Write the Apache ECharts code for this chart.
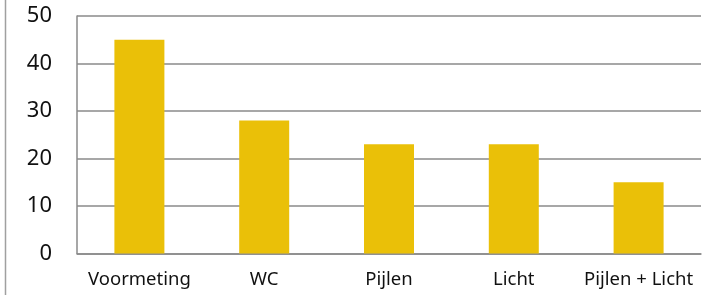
<!DOCTYPE html>
<html>
<head>
<meta charset="utf-8">
<script src="https://cdn.jsdelivr.net/npm/echarts@6/dist/echarts.min.js"></script>
<style>
  html, body { margin: 0; padding: 0; background: #fff; }
  #chart { width: 718px; height: 295px; }
</style>
</head>
<body>
<div id="chart"></div>
<script>
// categorieen en waarden
var categories = ['Voormeting', 'WC', 'Pijlen', 'Licht', 'Pijlen + Licht'];
var values = [45, 28, 23, 23, 15];
var yTicks = [0, 10, 20, 30, 40, 50];

var myChart = echarts.init(document.getElementById('chart'));
myChart.setOption({
    animation: false,
    textStyle: { fontFamily: 'Noto Sans' },
    grid: { left: 77, right: 17, top: 16, bottom: 41.5 },
    graphic: [{
        type: 'line',
        shape: { x1: 5.5, y1: 0, x2: 5.5, y2: 295 },
        style: { stroke: '#a0a0a0', lineWidth: 1.5 }
    }],
    xAxis: {
        type: 'category',
        data: categories,
        axisLine: { show: true, lineStyle: { color: '#8a8a8a', width: 1.5 } },
        axisTick: { show: false },
        axisLabel: { color: '#111', fontSize: 18.5, margin: 17, interval: 0, hideOverlap: false }
    },
    yAxis: {
        type: 'value',
        min: yTicks[0],
        max: yTicks[yTicks.length - 1],
        interval: 10,
        axisLine: { show: true, lineStyle: { color: '#8a8a8a', width: 1.5 } },
        axisTick: { show: false },
        axisLabel: { color: '#111', fontSize: 22, margin: 25 },
        splitLine: { lineStyle: { color: '#8a8a8a', width: 1.5 } }
    },
    series: [{
        type: 'bar',
        data: values,
        barWidth: 50,
        itemStyle: { color: '#eac008' }
    }]
});
</script>
</body>
</html>
